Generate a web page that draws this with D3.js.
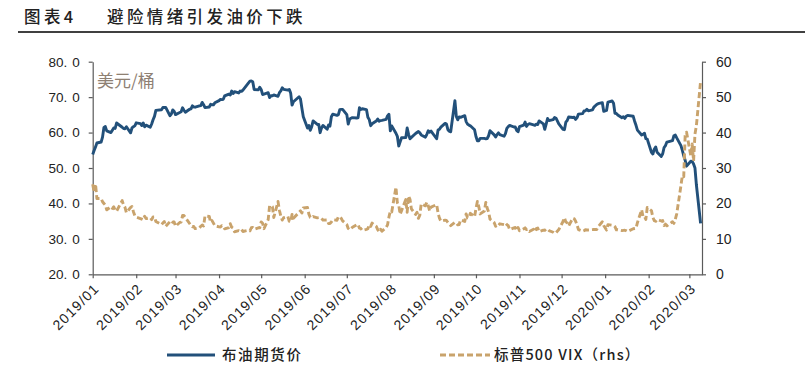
<!DOCTYPE html>
<html lang="zh">
<head>
<meta charset="utf-8">
<title>避险情绪引发油价下跌</title>
<script src="https://cdn.jsdelivr.net/npm/d3@7/dist/d3.min.js"></script>
<style>
  body { margin: 0; background: #fff; }
  svg { display: block; }
  .num { font-family: "Liberation Sans", Arial, sans-serif; }
  .cjk { font-family: "Noto Sans CJK SC", sans-serif; }
</style>
</head>
<body>
<script>
// trading days (2019-01-01 .. 2020-03-09)
var dates = [
  "2019-01-01","2019-01-02","2019-01-03","2019-01-04","2019-01-07","2019-01-08","2019-01-09","2019-01-10","2019-01-11","2019-01-14","2019-01-15","2019-01-16","2019-01-17","2019-01-18","2019-01-22","2019-01-23","2019-01-24","2019-01-25","2019-01-28","2019-01-29","2019-01-30","2019-01-31",
  "2019-02-01","2019-02-04","2019-02-05","2019-02-06","2019-02-07","2019-02-08","2019-02-11","2019-02-12","2019-02-13","2019-02-14","2019-02-15","2019-02-19","2019-02-20","2019-02-21","2019-02-22","2019-02-25","2019-02-26","2019-02-27","2019-02-28",
  "2019-03-01","2019-03-04","2019-03-05","2019-03-06","2019-03-07","2019-03-08","2019-03-11","2019-03-12","2019-03-13","2019-03-14","2019-03-15","2019-03-18","2019-03-19","2019-03-20","2019-03-21","2019-03-22","2019-03-25","2019-03-26","2019-03-27","2019-03-28","2019-03-29",
  "2019-04-01","2019-04-02","2019-04-03","2019-04-04","2019-04-05","2019-04-08","2019-04-09","2019-04-10","2019-04-11","2019-04-12","2019-04-15","2019-04-16","2019-04-17","2019-04-18","2019-04-22","2019-04-23","2019-04-24","2019-04-25","2019-04-26","2019-04-29","2019-04-30",
  "2019-05-01","2019-05-02","2019-05-03","2019-05-06","2019-05-07","2019-05-08","2019-05-09","2019-05-10","2019-05-13","2019-05-14","2019-05-15","2019-05-16","2019-05-17","2019-05-20","2019-05-21","2019-05-22","2019-05-23","2019-05-24","2019-05-28","2019-05-29","2019-05-30","2019-05-31",
  "2019-06-03","2019-06-04","2019-06-05","2019-06-06","2019-06-07","2019-06-10","2019-06-11","2019-06-12","2019-06-13","2019-06-14","2019-06-17","2019-06-18","2019-06-19","2019-06-20","2019-06-21","2019-06-24","2019-06-25","2019-06-26","2019-06-27","2019-06-28",
  "2019-07-01","2019-07-02","2019-07-03","2019-07-05","2019-07-08","2019-07-09","2019-07-10","2019-07-11","2019-07-12","2019-07-15","2019-07-16","2019-07-17","2019-07-18","2019-07-19","2019-07-22","2019-07-23","2019-07-24","2019-07-25","2019-07-26","2019-07-29","2019-07-30","2019-07-31",
  "2019-08-01","2019-08-02","2019-08-05","2019-08-06","2019-08-07","2019-08-08","2019-08-09","2019-08-12","2019-08-13","2019-08-14","2019-08-15","2019-08-16","2019-08-19","2019-08-20","2019-08-21","2019-08-22","2019-08-23","2019-08-26","2019-08-27","2019-08-28","2019-08-29","2019-08-30",
  "2019-09-03","2019-09-04","2019-09-05","2019-09-06","2019-09-09","2019-09-10","2019-09-11","2019-09-12","2019-09-13","2019-09-16","2019-09-17","2019-09-18","2019-09-19","2019-09-20","2019-09-23","2019-09-24","2019-09-25","2019-09-26","2019-09-27","2019-09-30",
  "2019-10-01","2019-10-02","2019-10-03","2019-10-04","2019-10-07","2019-10-08","2019-10-09","2019-10-10","2019-10-11","2019-10-14","2019-10-15","2019-10-16","2019-10-17","2019-10-18","2019-10-21","2019-10-22","2019-10-23","2019-10-24","2019-10-25","2019-10-28","2019-10-29","2019-10-30","2019-10-31",
  "2019-11-01","2019-11-04","2019-11-05","2019-11-06","2019-11-07","2019-11-08","2019-11-11","2019-11-12","2019-11-13","2019-11-14","2019-11-15","2019-11-18","2019-11-19","2019-11-20","2019-11-21","2019-11-22","2019-11-25","2019-11-26","2019-11-27","2019-11-29",
  "2019-12-02","2019-12-03","2019-12-04","2019-12-05","2019-12-06","2019-12-09","2019-12-10","2019-12-11","2019-12-12","2019-12-13","2019-12-16","2019-12-17","2019-12-18","2019-12-19","2019-12-20","2019-12-23","2019-12-24","2019-12-26","2019-12-27","2019-12-30","2019-12-31",
  "2020-01-02","2020-01-03","2020-01-06","2020-01-07","2020-01-08","2020-01-09","2020-01-10","2020-01-13","2020-01-14","2020-01-15","2020-01-16","2020-01-17","2020-01-21","2020-01-22","2020-01-23","2020-01-24","2020-01-27","2020-01-28","2020-01-29","2020-01-30","2020-01-31",
  "2020-02-03","2020-02-04","2020-02-05","2020-02-06","2020-02-07","2020-02-10","2020-02-11","2020-02-12","2020-02-13","2020-02-14","2020-02-18","2020-02-19","2020-02-20","2020-02-21","2020-02-24","2020-02-25","2020-02-26","2020-02-27","2020-02-28",
  "2020-03-02","2020-03-03","2020-03-04","2020-03-05","2020-03-06","2020-03-09"
];

// 布油期货价, USD/bbl
var brent = [
  53.80,54.91,55.95,57.06,57.33,58.72,61.44,61.68,60.48,59.99,60.64,61.32,61.18,62.70,61.50,61.14,61.09,61.64,59.93,61.32,61.65,61.89,
  62.75,62.51,61.98,62.69,61.63,62.10,61.51,62.42,63.61,64.57,66.25,66.45,67.08,67.07,67.12,64.76,65.21,66.39,66.03,
  65.07,65.67,65.86,66.99,66.30,65.74,66.58,66.67,67.55,67.23,67.16,67.54,67.61,68.50,67.86,67.03,67.21,67.97,67.83,67.82,68.39,
  69.01,69.37,69.31,69.40,70.34,70.86,70.61,71.73,71.02,71.55,71.18,71.72,71.62,71.97,74.04,74.51,74.57,74.35,72.15,72.04,72.80,
  72.18,70.75,70.85,71.24,69.88,70.37,70.39,70.62,70.23,71.24,71.77,72.62,72.21,71.97,72.18,71.18,67.76,68.69,70.11,69.45,66.87,64.49,
  61.28,61.97,60.63,61.67,63.29,62.29,62.29,59.97,61.31,62.01,60.94,62.14,61.82,64.45,65.20,64.86,65.05,66.49,66.55,66.55,
  65.06,62.40,63.82,64.23,64.11,64.16,67.01,66.52,66.72,66.48,64.35,63.66,61.93,62.47,63.26,63.83,63.18,63.39,63.46,63.71,64.72,65.17,
  60.50,61.89,59.81,58.94,56.23,57.38,58.53,58.57,61.30,59.48,58.23,58.64,59.74,60.03,60.30,59.92,59.34,58.70,59.51,60.49,60.08,60.43,
  58.26,60.70,60.95,61.54,62.59,62.38,60.81,60.38,60.22,69.02,64.55,63.60,64.40,64.28,64.77,63.10,62.39,62.08,61.91,60.78,
  58.89,57.69,57.71,58.37,58.35,58.24,58.32,59.10,60.51,59.35,58.74,59.42,59.91,59.42,58.96,59.70,61.17,61.67,62.02,61.57,61.59,60.61,60.23,
  61.69,62.13,62.96,61.74,62.29,62.51,62.18,62.06,62.37,62.28,63.30,62.44,60.91,62.40,63.97,63.39,63.65,64.27,64.06,62.43,
  60.92,60.82,62.94,63.39,64.39,64.25,64.34,63.72,64.20,65.22,65.34,66.10,66.17,66.54,66.14,66.39,67.20,67.92,68.16,68.44,66.00,
  66.25,68.60,68.91,68.27,65.44,65.37,64.98,64.20,64.49,64.00,64.62,64.85,64.59,63.21,62.04,60.69,59.32,59.51,59.81,58.29,58.16,
  54.45,53.96,55.28,55.93,54.47,53.27,54.01,55.79,56.34,57.32,57.75,59.12,59.31,58.50,56.30,54.95,53.43,52.18,50.52,
  51.90,51.86,51.13,49.99,45.27,34.36
];

// 标普500 VIX (rhs)
var vix = [
  25.42,23.22,25.45,21.38,21.40,20.47,19.98,19.50,18.19,19.07,18.60,19.04,18.06,17.80,20.80,19.52,18.89,17.42,18.87,19.13,17.66,16.57,
  16.14,15.73,15.57,15.38,16.37,15.72,15.97,15.43,16.22,16.22,14.91,14.02,14.46,14.88,13.51,14.85,15.17,14.70,14.78,
  13.57,14.63,14.74,16.59,16.59,16.05,14.33,13.77,13.41,13.50,12.88,13.10,13.56,13.91,13.63,16.48,16.33,14.68,15.15,14.43,13.71,
  13.40,13.36,13.74,13.58,12.82,13.18,14.28,13.30,13.02,12.01,12.32,12.18,12.60,12.09,12.42,12.28,13.14,13.25,12.73,13.11,13.12,
  14.80,14.42,12.87,15.44,19.32,19.40,19.10,16.04,20.55,18.06,16.44,15.29,15.96,16.31,14.95,14.75,16.92,15.85,17.50,17.90,17.30,18.71,
  18.86,16.97,16.09,15.93,16.30,15.94,15.99,15.91,15.82,15.28,15.35,14.33,14.33,14.75,15.40,15.26,16.28,16.21,15.82,15.08,
  14.06,12.93,12.57,13.28,13.96,14.09,13.03,12.93,12.39,12.68,12.86,13.97,13.53,14.45,13.53,12.61,12.07,12.74,12.16,13.24,13.94,16.12,
  17.87,17.61,24.59,20.17,19.49,16.91,17.97,21.09,17.52,22.10,21.18,18.47,16.88,17.50,15.80,16.68,19.87,19.32,20.31,19.35,17.88,18.98,
  19.66,17.33,15.82,15.00,15.27,15.20,14.61,14.22,13.74,14.67,14.44,13.95,14.05,15.32,14.91,17.05,15.96,16.07,17.22,16.24,
  18.56,20.56,19.12,17.04,17.86,20.28,18.64,17.57,15.58,14.57,13.54,14.00,13.79,14.25,14.00,14.46,14.01,13.71,12.65,13.11,13.20,12.33,13.22,
  12.30,12.83,13.10,12.62,12.73,12.07,12.69,11.99,12.89,13.05,12.05,12.46,12.41,12.78,12.73,12.34,11.87,11.54,11.75,12.62,
  14.91,15.96,14.80,14.52,13.62,15.86,15.68,14.99,13.94,12.63,12.14,12.29,12.58,12.50,12.51,12.61,12.67,12.65,13.43,14.82,13.78,
  12.47,14.02,13.85,13.79,13.45,12.54,12.56,12.32,12.39,12.42,12.32,12.10,12.85,12.91,12.98,14.56,18.23,16.28,16.39,15.49,18.84,
  17.97,16.05,15.15,14.96,15.47,15.04,15.18,13.74,14.15,13.68,14.83,14.38,15.56,17.08,25.03,27.85,27.56,39.16,40.11,
  33.42,36.82,31.99,39.62,41.94,54.46
];

var leftTicks = [20, 30, 40, 50, 60, 70, 80];
var rightTicks = [0, 10, 20, 30, 40, 50, 60];
var seriesNames = ["布油期货价", "标普500 VIX（rhs）"];

var W = 805, H = 372;
var x0 = 92.7, x1 = 702, yTop = 61.7, yBot = 274.3;
var blue = "#22507a", tan = "#c9a36c";

var parse = d3.timeParse("%Y-%m-%d");
var n = Math.min(dates.length, brent.length, vix.length);
var rows = [];
for (var i = 0; i < n; i++) {
  rows.push({ d: parse(dates[i]), b: brent[i], v: vix[i] });
}

var svg = d3.select("body").append("svg")
  .attr("width", W).attr("height", H);

svg.append("rect").attr("width", W).attr("height", H).attr("fill", "#fff");

// title
svg.append("text").attr("class", "cjk")
  .attr("x", 24).attr("y", 22.5)
  .attr("font-size", 16.5).attr("letter-spacing", "3.4px")
  .attr("fill", "#222").attr("font-weight", 500)
  .text("图表4");
svg.append("text").attr("class", "cjk")
  .attr("x", 107).attr("y", 22.5)
  .attr("font-size", 16.5).attr("letter-spacing", "3.4px")
  .attr("fill", "#222").attr("font-weight", 500)
  .text("避险情绪引发油价下跌");
svg.append("line")
  .attr("x1", 18).attr("x2", W).attr("y1", 32).attr("y2", 32)
  .attr("stroke", "#000").attr("stroke-width", 1.3);

var x = d3.scaleTime()
  .domain([new Date(2019, 0, 1), new Date(2020, 2, 10)])
  .range([x0, x1]);
var yL = d3.scaleLinear().domain([20, 80]).range([yBot, yTop]);
var yR = d3.scaleLinear().domain([0, 60]).range([yBot, yTop]);

// axes
var gx = svg.append("g").attr("transform", "translate(0," + yBot + ")")
  .call(d3.axisBottom(x)
    .ticks(d3.timeMonth.every(1))
    .tickFormat(d3.timeFormat("%Y/%m"))
    .tickSize(4).tickSizeOuter(0));
gx.selectAll("text")
  .attr("class", "num")
  .attr("font-size", 14).attr("letter-spacing", "1.2px")
  .attr("fill", "#222")
  .attr("text-anchor", "end")
  .attr("y", 0).attr("dy", 0)
  .attr("transform", "translate(7,15) rotate(-45)");

var gl = svg.append("g").attr("transform", "translate(" + x0 + ",0)")
  .call(d3.axisLeft(yL).tickValues(leftTicks).tickSize(4).tickPadding(9).tickSizeOuter(0));
gl.selectAll("text").each(function(d) {
  var s = d3.format(".1f")(d).split(".");
  var t = d3.select(this).text(null)
    .attr("class", "num").attr("font-size", 13.5).attr("fill", "#222");
  t.append("tspan").text(s[0] + ".");
  t.append("tspan").attr("dx", 5).text(s[1]);
});

var gr = svg.append("g").attr("transform", "translate(" + x1 + ",0)")
  .call(d3.axisRight(yR).tickValues(rightTicks).tickSize(4).tickPadding(10).tickSizeOuter(0));
gr.selectAll("text").attr("class", "num").attr("font-size", 14).attr("fill", "#222");

svg.selectAll(".domain, .tick line").attr("stroke", "#5a5a5a").attr("stroke-width", 1.2);
[gx, gl, gr].forEach(function(g) { g.attr("font-family", null).attr("font-size", null); });

// unit label
svg.append("text").attr("class", "cjk")
  .attr("x", 97).attr("y", 87)
  .attr("font-size", 17).attr("fill", "#8e8073")
  .text("美元/桶");

// lines
var lineB = d3.line().x(function(r) { return x(r.d); }).y(function(r) { return yL(r.b); });
var lineV = d3.line().x(function(r) { return x(r.d); }).y(function(r) { return yR(r.v); });

svg.append("path").datum(rows)
  .attr("d", lineB)
  .attr("fill", "none").attr("stroke", blue)
  .attr("stroke-width", 2.9).attr("stroke-linejoin", "round");

svg.append("path").datum(rows)
  .attr("d", lineV)
  .attr("fill", "none").attr("stroke", tan)
  .attr("stroke-width", 2.9).attr("stroke-dasharray", "6,3")
  .attr("stroke-linejoin", "round");

// legend
var legY = 355;
svg.append("line").attr("x1", 167).attr("x2", 215).attr("y1", legY).attr("y2", legY)
  .attr("stroke", blue).attr("stroke-width", 2.9);
svg.append("text").attr("class", "cjk")
  .attr("x", 222).attr("y", legY + 5)
  .attr("font-size", 14.5).attr("letter-spacing", "1.6px").attr("fill", "#222")
  .attr("font-weight", 500)
  .text(seriesNames[0]);
svg.append("line").attr("x1", 440).attr("x2", 490).attr("y1", legY).attr("y2", legY)
  .attr("stroke", tan).attr("stroke-width", 2.9).attr("stroke-dasharray", "6,3");
svg.append("text").attr("class", "cjk")
  .attr("x", 494).attr("y", legY + 5)
  .attr("font-size", 14.5).attr("letter-spacing", "1.2px").attr("fill", "#222")
  .attr("font-weight", 500)
  .text(seriesNames[1]);
</script>
</body>
</html>
